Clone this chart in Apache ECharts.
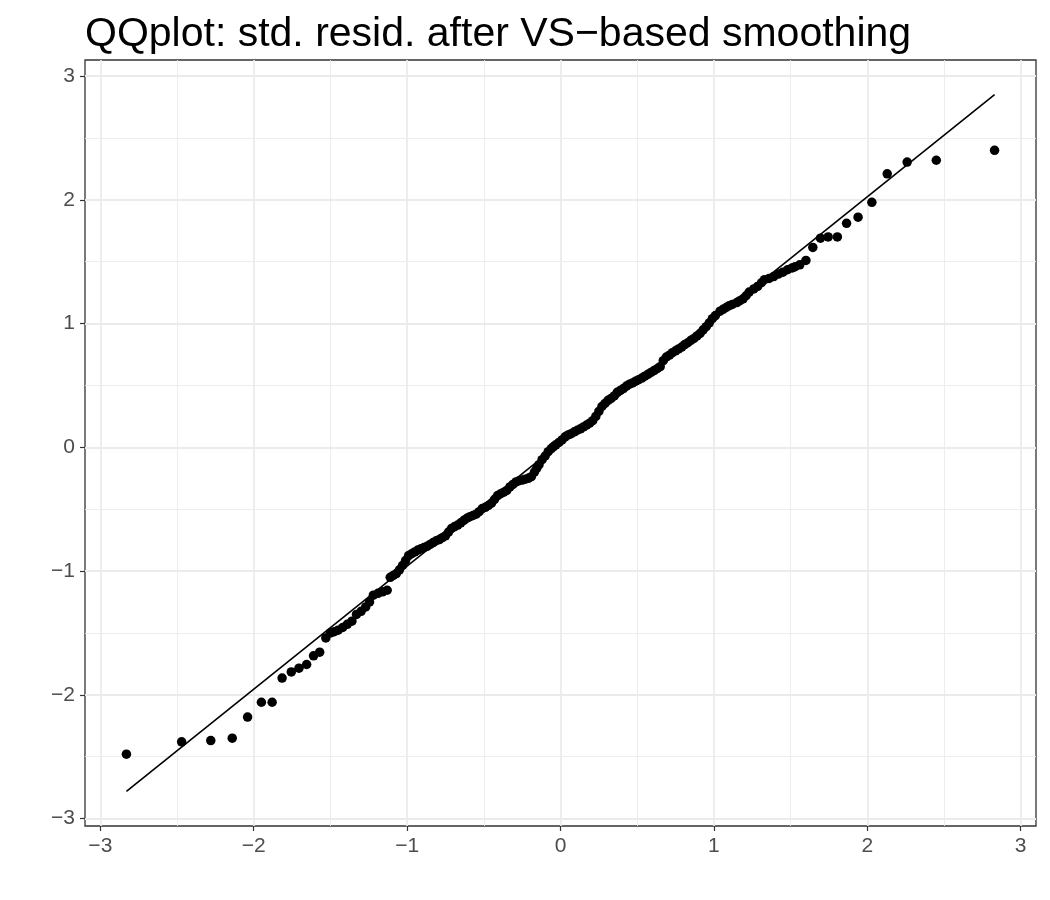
<!DOCTYPE html>
<html>
<head>
<meta charset="utf-8">
<script src="https://cdn.jsdelivr.net/npm/echarts@6/dist/echarts.min.js"></script>
<style>
  html, body { margin: 0; padding: 0; background: #fff; }
  #chart { width: 1050px; height: 900px; }
</style>
</head>
<body>
<div id="chart"></div>
<script>
// theoretical quantiles (x) and standardized residuals (y)
var qqX = [-2.83,-2.47,-2.28,-2.14,-2.04,-1.95,-1.88,-1.815,-1.755,-1.705,-1.655,-1.61,-1.57,-1.53,
  -1.50,-1.475,-1.45,-1.42,-1.39,-1.36,-1.33,-1.30,-1.27,-1.245,
  -1.22,-1.19,-1.16,-1.13,-1.11,-1.09,-1.07,-1.05,-1.03,-1.01,
  -0.99,-0.97,-0.95,-0.93,-0.91,-0.89,-0.87,-0.85,-0.83,-0.81,
  -0.79,-0.77,-0.75,-0.73,-0.71,-0.69,-0.67,-0.65,-0.63,-0.61,
  -0.59,-0.57,-0.55,-0.53,-0.51,-0.49,-0.47,-0.45,-0.43,-0.41,
  -0.39,-0.37,-0.35,-0.33,-0.31,-0.29,-0.27,-0.25,-0.23,-0.21,
  -0.19,-0.17,-0.155,-0.14,-0.12,-0.10,-0.08,-0.06,-0.045,-0.03,
  -0.01,0.01,0.03,0.05,0.07,0.09,0.11,0.13,0.15,0.17,
  0.19,0.21,0.23,0.25,0.27,0.29,0.31,0.33,0.35,0.37,
  0.39,0.41,0.43,0.45,0.47,0.49,0.51,0.53,0.55,0.57,
  0.59,0.61,0.63,0.65,0.67,0.69,0.71,0.73,0.75,0.77,
  0.79,0.81,0.83,0.85,0.87,0.89,0.91,0.93,0.95,0.97,
  0.99,1.01,1.04,1.06,1.08,1.10,1.12,1.15,1.17,1.19,
  1.21,1.23,1.26,1.285,1.31,1.33,1.36,1.39,1.42,1.45,
  1.48,1.51,1.53,1.56,1.60,
  1.645,1.695,1.745,1.805,1.865,1.94,2.03,2.13,2.26,2.45,2.83];

var qqY = [-2.48,-2.38,-2.37,-2.35,-2.18,-2.06,-2.06,-1.865,-1.815,-1.785,-1.755,-1.685,-1.655,-1.54,
  -1.50,-1.49,-1.478,-1.456,-1.43,-1.405,-1.35,-1.325,-1.29,-1.25,
  -1.195,-1.18,-1.168,-1.155,-1.05,-1.035,-1.02,-0.99,-0.955,-0.915,
  -0.875,-0.86,-0.845,-0.83,-0.82,-0.81,-0.80,-0.785,-0.77,-0.755,
  -0.745,-0.73,-0.715,-0.685,-0.655,-0.64,-0.628,-0.61,-0.59,-0.573,
  -0.56,-0.55,-0.54,-0.52,-0.495,-0.485,-0.47,-0.452,-0.42,-0.39,
  -0.375,-0.362,-0.348,-0.32,-0.30,-0.28,-0.27,-0.265,-0.258,-0.25,
  -0.237,-0.20,-0.17,-0.14,-0.10,-0.07,-0.035,-0.01,0.006,0.02,
  0.04,0.06,0.085,0.10,0.11,0.125,0.138,0.15,0.165,0.18,
  0.195,0.215,0.25,0.29,0.33,0.355,0.38,0.395,0.415,0.445,
  0.46,0.475,0.495,0.51,0.52,0.535,0.547,0.56,0.575,0.59,
  0.605,0.62,0.635,0.652,0.70,0.73,0.745,0.765,0.78,0.795,
  0.81,0.83,0.845,0.865,0.88,0.90,0.92,0.95,0.975,1.005,
  1.04,1.065,1.10,1.115,1.13,1.145,1.155,1.17,1.185,1.20,
  1.225,1.255,1.28,1.30,1.33,1.355,1.365,1.38,1.40,1.415,
  1.435,1.45,1.46,1.475,1.51,
  1.615,1.69,1.70,1.70,1.81,1.86,1.98,2.21,2.305,2.32,2.40];

// reference line end points
var lineX = [-2.83, 2.83];
var lineY = [-2.78, 2.85];

var tickValues = [-3, -2, -1, 0, 1, 2, 3];
var minorValues = [-2.5, -1.5, -0.5, 0.5, 1.5, 2.5];

function fmtTick(v) {
	return String(v).replace('-', '\u2212');
}

function gridLines(axis, values, width) {
	var out = [];
	for (var i = 0; i < values.length; i++) {
		var item = { lineStyle: { color: '#EBEBEB', width: width, type: 'solid' } };
		item[axis] = values[i];
		out.push(item);
	}
	return out;
}

var points = [];
for (var i = 0; i < qqX.length; i++) {
	points.push([qqX[i], qqY[i]]);
}

var chart = echarts.init(document.getElementById('chart'), null, { renderer: 'canvas' });

var axisCommon = {
	type: 'value',
	axisLine: { show: false, onZero: false },
	splitLine: { show: false },
	axisTick: { show: true, length: 5, customValues: tickValues, lineStyle: { color: '#333333', width: 1.2 } },
	axisLabel: {
		customValues: tickValues,
		formatter: fmtTick,
		color: '#4D4D4D',
		fontSize: 21,
		fontFamily: 'Liberation Sans, Arial, sans-serif',
		margin: 10
	}
};

var option = {
	animation: false,
	backgroundColor: '#ffffff',
	title: {
		text: 'QQplot: std. resid. after VS\u2212based smoothing',
		left: 80,
		top: 9,
		textStyle: {
			color: '#000000',
			fontSize: 41,
			fontWeight: 'normal',
			fontFamily: 'Liberation Sans, Arial, sans-serif'
		}
	},
	grid: {
		left: 85,
		right: 14,
		top: 60,
		bottom: 74,
		show: true,
		borderColor: '#333333',
		borderWidth: 1.3,
		backgroundColor: '#ffffff'
	},
	xAxis: Object.assign({}, axisCommon, { min: -3.1, max: 3.1 }),
	yAxis: Object.assign({}, axisCommon, { min: -3.06, max: 3.13 }),
	series: [
		{
			// panel grid
			type: 'line',
			data: [],
			silent: true,
			z: 0,
			markLine: {
				silent: true,
				z: 0,
				symbol: ['none', 'none'],
				label: { show: false },
				emphasis: { disabled: true },
				animation: false,
				data: []
					.concat(gridLines('xAxis', minorValues, 0.9))
					.concat(gridLines('yAxis', minorValues, 0.9))
					.concat(gridLines('xAxis', tickValues, 1.8))
					.concat(gridLines('yAxis', tickValues, 1.8))
			}
		},
		{
			type: 'line',
			data: [[lineX[0], lineY[0]], [lineX[1], lineY[1]]],
			symbol: 'none',
			silent: true,
			z: 3,
			lineStyle: { color: '#000000', width: 1.6 }
		},
		{
			type: 'scatter',
			data: points,
			symbolSize: 9.5,
			z: 4,
			itemStyle: { color: '#000000', opacity: 1 }
		}
	]
};

chart.setOption(option);
</script>
</body>
</html>
